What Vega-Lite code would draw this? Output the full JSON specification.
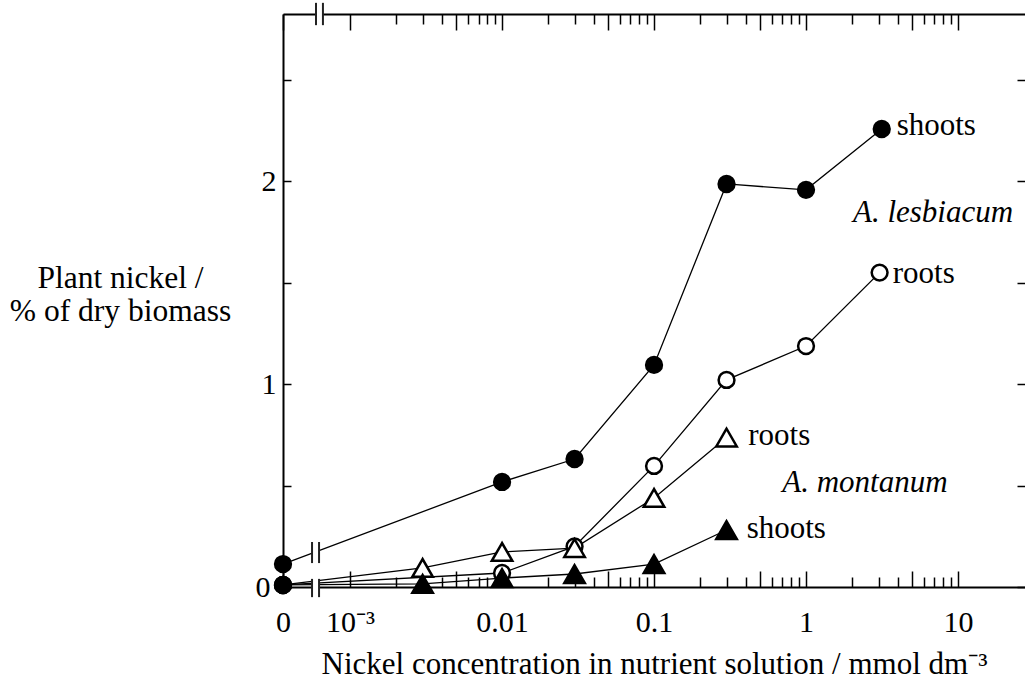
{
  "$schema": "https://vega.github.io/schema/vega-lite/v6.json",
  "width": 742,
  "height": 573,
  "autosize": {"type": "none"},
  "padding": {"left": 283, "top": 14, "right": 0, "bottom": 95},
  "background": "white",
  "config": {
    "view": {"stroke": null},
    "font": "Liberation Serif",
    "axis": {
      "grid": false,
      "domainColor": "black",
      "domainWidth": 2,
      "tickColor": "black",
      "tickWidth": 1.5,
      "labelColor": "black",
      "titleColor": "black",
      "labelFont": "Liberation Serif",
      "titleFont": "Liberation Serif",
      "titleFontWeight": "normal",
      "labelFontSize": 30,
      "titleFontSize": 31,
      "labelOverlap": false,
      "labelFlush": false,
      "labelBound": false
    }
  },
  "datasets": {
    "nickel": [
      {"series": "lesbiacum shoots", "conc": 0, "value": 0.113},
      {"series": "lesbiacum shoots", "conc": 0.01, "value": 0.518},
      {"series": "lesbiacum shoots", "conc": 0.03, "value": 0.631},
      {"series": "lesbiacum shoots", "conc": 0.1, "value": 1.095},
      {"series": "lesbiacum shoots", "conc": 0.3, "value": 1.987},
      {"series": "lesbiacum shoots", "conc": 1, "value": 1.958},
      {"series": "lesbiacum shoots", "conc": 3.15, "value": 2.258},
      {"series": "lesbiacum roots", "conc": 0, "value": 0.01},
      {"series": "lesbiacum roots", "conc": 0.01, "value": 0.069},
      {"series": "lesbiacum roots", "conc": 0.03, "value": 0.2},
      {"series": "lesbiacum roots", "conc": 0.1, "value": 0.597},
      {"series": "lesbiacum roots", "conc": 0.3, "value": 1.021},
      {"series": "lesbiacum roots", "conc": 1, "value": 1.188},
      {"series": "lesbiacum roots", "conc": 3.05, "value": 1.55},
      {"series": "montanum roots", "conc": 0, "value": 0.01},
      {"series": "montanum roots", "conc": 0.003, "value": 0.094},
      {"series": "montanum roots", "conc": 0.01, "value": 0.173},
      {"series": "montanum roots", "conc": 0.03, "value": 0.192},
      {"series": "montanum roots", "conc": 0.1, "value": 0.439},
      {"series": "montanum roots", "conc": 0.3, "value": 0.737},
      {"series": "montanum shoots", "conc": 0, "value": 0.01},
      {"series": "montanum shoots", "conc": 0.003, "value": 0.015},
      {"series": "montanum shoots", "conc": 0.01, "value": 0.044},
      {"series": "montanum shoots", "conc": 0.03, "value": 0.064},
      {"series": "montanum shoots", "conc": 0.1, "value": 0.113},
      {"series": "montanum shoots", "conc": 0.3, "value": 0.281}
    ],
    "breaks": [
      {"xa": 0.000562, "xb": 0.000625, "lo": -0.05, "hi": 0.04},
      {"xa": 0.000562, "xb": 0.000625, "lo": 0.118, "hi": 0.222},
      {"xa": 0.000597, "xb": 0.000663, "lo": 2.77, "hi": 2.88}
    ],
    "labels": [
      {"conc": 3.95, "value": 2.229, "text": "shoots"},
      {"conc": 3.72, "value": 1.499, "text": "roots"},
      {"conc": 0.417, "value": 0.7, "text": "roots"},
      {"conc": 0.407, "value": 0.242, "text": "shoots"}
    ],
    "species": [
      {"conc": 6.85, "value": 1.8, "text": "A. lesbiacum"},
      {"conc": 2.44, "value": 0.468, "text": "A. montanum"}
    ]
  },
  "layer": [
    {
      "data": {"name": "nickel"},
      "transform": [{"calculate": "datum.conc == 0 ? 0.000362 : datum.conc", "as": "x"}],
      "mark": {"type": "line", "color": "black", "strokeWidth": 1.3},
      "encoding": {
        "x": {
          "field": "x", "type": "quantitative",
          "scale": {"type": "log", "domain": [0.000362, 27.6], "nice": false},
          "axis": {
            "orient": "bottom",
            "values": [0.000362, 0.001, 0.002, 0.003, 0.004, 0.005, 0.006, 0.007, 0.008, 0.009, 0.01, 0.02, 0.03, 0.04, 0.05, 0.06, 0.07, 0.08, 0.09, 0.1, 0.2, 0.3, 0.4, 0.5, 0.6, 0.7, 0.8, 0.9, 1, 2, 3, 4, 5, 6, 7, 8, 9, 10],
            "tickSize": {"condition": {"test": "indexof([0.000362,0.001,0.005,0.01,0.05,0.1,0.5,1,5,10], datum.value) >= 0", "value": -16}, "value": -10},
            "labelExpr": "datum.value == 0.000362 ? '0' : datum.value == 0.001 ? '10⁻³' : datum.value == 0.01 ? '0.01' : datum.value == 0.1 ? '0.1' : datum.value == 1 ? '1' : datum.value == 10 ? '10' : ''",
            "labelBaseline": "alphabetic",
            "labelPadding": 60,
            "title": "Nickel concentration in nutrient solution / mmol dm⁻³",
            "titleBaseline": "alphabetic",
            "titleAlign": "center",
            "titleX": 371,
            "titleY": 86
          }
        },
        "y": {
          "field": "value", "type": "quantitative",
          "scale": {"domain": [0, 2.825], "nice": false, "zero": false},
          "axis": {
            "orient": "left",
            "values": [0, 0.5, 1, 1.5, 2, 2.5],
            "tickSize": -8,
            "labelPadding": {"condition": {"test": "datum.value == 0", "value": 21}, "value": 15},
            "labelExpr": "datum.value % 1 == 0 ? format(datum.value, 'd') : ''",
            "title": ["Plant nickel /", "% of dry biomass"],
            "titleAngle": 0,
            "titleAlign": "center",
            "titleBaseline": "alphabetic",
            "titleX": -163,
            "titleY": 273,
            "titleLineHeight": 33,
            "titleFontSize": 31.5
          }
        },
        "detail": {"field": "series", "type": "nominal"}
      }
    },
    {
      "data": {"name": "breaks"},
      "mark": {"type": "rect", "fill": "white", "stroke": null},
      "encoding": {
        "x": {"field": "xa", "type": "quantitative", "scale": {"type": "log", "domain": [0.000362, 27.6], "nice": false}, "axis": null},
        "x2": {"field": "xb"},
        "y": {"field": "lo", "type": "quantitative", "scale": {"domain": [0, 2.825], "nice": false, "zero": false}, "axis": null},
        "y2": {"field": "hi"}
      }
    },
    {
      "data": {"name": "breaks"},
      "mark": {"type": "rule", "color": "#222222", "strokeWidth": 2},
      "encoding": {
        "x": {"field": "xa", "type": "quantitative", "scale": {"type": "log", "domain": [0.000362, 27.6], "nice": false}, "axis": null},
        "y": {"field": "lo", "type": "quantitative", "scale": {"domain": [0, 2.825], "nice": false, "zero": false}, "axis": null},
        "y2": {"field": "hi"}
      }
    },
    {
      "data": {"name": "breaks"},
      "mark": {"type": "rule", "color": "#222222", "strokeWidth": 2},
      "encoding": {
        "x": {"field": "xb", "type": "quantitative", "scale": {"type": "log", "domain": [0.000362, 27.6], "nice": false}, "axis": null},
        "y": {"field": "lo", "type": "quantitative", "scale": {"domain": [0, 2.825], "nice": false, "zero": false}, "axis": null},
        "y2": {"field": "hi"}
      }
    },
    {
      "data": {"name": "nickel"},
      "transform": [{"filter": "datum.conc > 0 && indexof(datum.series, 'lesbiacum') >= 0"}],
      "mark": {"type": "point", "shape": "circle", "size": 250, "filled": true, "stroke": "black", "strokeWidth": 2.5, "opacity": 1},
      "encoding": {
        "x": {
          "field": "conc", "type": "quantitative",
          "scale": {"type": "log", "domain": [0.000362, 27.6], "nice": false},
          "axis": {
            "orient": "top",
            "values": [0.000362, 0.001, 0.002, 0.003, 0.004, 0.005, 0.006, 0.007, 0.008, 0.009, 0.01, 0.02, 0.03, 0.04, 0.05, 0.06, 0.07, 0.08, 0.09, 0.1, 0.2, 0.3, 0.4, 0.5, 0.6, 0.7, 0.8, 0.9, 1, 2, 3, 4, 5, 6, 7, 8, 9, 10],
            "tickSize": {"condition": {"test": "indexof([0.000362,0.001,0.005,0.01,0.05,0.1,0.5,1,5,10], datum.value) >= 0", "value": -16}, "value": -10},
            "labels": false,
            "title": null
          }
        },
        "y": {
          "field": "value", "type": "quantitative",
          "scale": {"domain": [0, 2.825], "nice": false, "zero": false},
          "axis": {
            "orient": "right",
            "values": [0, 0.5, 1, 1.5, 2, 2.5],
            "tickSize": -8,
            "labels": false,
            "domain": false,
            "title": null
          }
        },
        "fill": {
          "field": "series", "type": "nominal",
          "scale": {"domain": ["lesbiacum shoots", "lesbiacum roots"], "range": ["black", "white"]},
          "legend": null
        }
      }
    },
    {
      "data": {"name": "nickel"},
      "transform": [{"filter": "datum.conc > 0 && indexof(datum.series, 'montanum') >= 0"}],
      "mark": {"type": "point", "shape": "triangle-up", "size": 420, "filled": true, "stroke": "black", "strokeWidth": 2.5, "opacity": 1},
      "encoding": {
        "x": {"field": "conc", "type": "quantitative", "scale": {"type": "log", "domain": [0.000362, 27.6], "nice": false}, "axis": null},
        "y": {"field": "value", "type": "quantitative", "scale": {"domain": [0, 2.825], "nice": false, "zero": false}, "axis": null},
        "fill": {
          "field": "series", "type": "nominal",
          "scale": {"domain": ["montanum roots", "montanum shoots"], "range": ["white", "black"]},
          "legend": null
        }
      }
    },
    {
      "data": {"name": "nickel"},
      "transform": [
        {"filter": "datum.conc == 0"},
        {"calculate": "0.000362", "as": "x"}
      ],
      "mark": {"type": "circle", "color": "black", "size": 250, "stroke": "black", "strokeWidth": 2.5, "opacity": 1},
      "encoding": {
        "x": {"field": "x", "type": "quantitative", "scale": {"type": "log", "domain": [0.000362, 27.6], "nice": false}, "axis": null},
        "y": {"field": "value", "type": "quantitative", "scale": {"domain": [0, 2.825], "nice": false, "zero": false}, "axis": null}
      }
    },
    {
      "data": {"name": "labels"},
      "mark": {"type": "text", "align": "left", "baseline": "alphabetic", "fontSize": 31, "font": "Liberation Serif", "color": "black"},
      "encoding": {
        "x": {"field": "conc", "type": "quantitative", "scale": {"type": "log", "domain": [0.000362, 27.6], "nice": false}, "axis": null},
        "y": {"field": "value", "type": "quantitative", "scale": {"domain": [0, 2.825], "nice": false, "zero": false}, "axis": null},
        "text": {"field": "text"}
      }
    },
    {
      "data": {"name": "species"},
      "mark": {"type": "text", "align": "center", "baseline": "alphabetic", "fontSize": 31, "fontStyle": "italic", "font": "Liberation Serif", "color": "black"},
      "encoding": {
        "x": {"field": "conc", "type": "quantitative", "scale": {"type": "log", "domain": [0.000362, 27.6], "nice": false}, "axis": null},
        "y": {"field": "value", "type": "quantitative", "scale": {"domain": [0, 2.825], "nice": false, "zero": false}, "axis": null},
        "text": {"field": "text"}
      }
    }
  ],
  "resolve": {"axis": {"x": "independent", "y": "independent"}, "scale": {"fill": "independent"}}
}
